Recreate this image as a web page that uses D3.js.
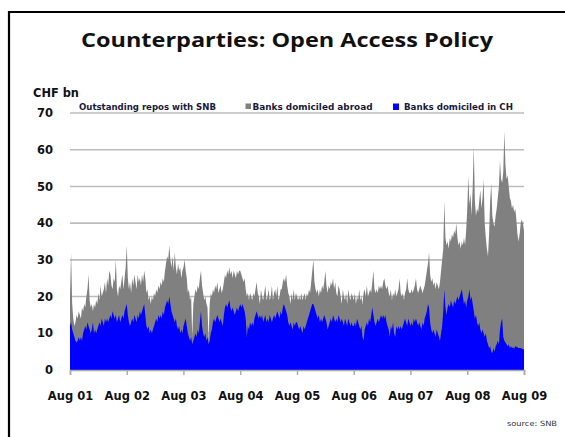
<!DOCTYPE html>
<html>
<head>
<meta charset="utf-8">
<script src="https://cdn.jsdelivr.net/npm/d3@7/dist/d3.min.js"></script>
<style>
  html, body { margin: 0; padding: 0; background: #fff; }
  svg { display: block; }
</style>
</head>
<body>
<div id="chart"></div>
<script>
// Outstanding repos with SNB, CHF bn, weekly readings Aug 2001 – Aug 2009
const seriesNames = ["Banks domiciled abroad", "Banks domiciled in CH"];

// Total outstanding (top of the grey area)
const totalRepos = [
  // Aug 01 – Aug 02
  20,32,18,14,12,13,15,14,16,15,14,17,16,18,17,20,22,26,19,17,18,16,18,17,19,18,
  21,19,23,20,21,22,24,21,25,23,27,26,23,22,25,24,30,22,20,23,22,24,26,22,25,28,
  // Aug 02 – Aug 03
  34,25,22,24,21,25,23,26,24,22,26,24,25,23,26,24,27,25,21,22,19,20,18,20,19,21,
  20,22,21,23,22,24,23,25,24,27,29,31,30,34,30,28,31,27,32,28,26,29,27,28,25,27,
  // Aug 03 – Aug 04
  28,30,27,25,21,22,19,20,9,18,20,22,21,23,22,25,27,23,21,19,20,18,17,8,18,21,
  20,22,21,23,22,24,21,22,23,21,22,24,26,25,27,26,28,26,27,25,27,26,25,27,26,27,
  // Aug 04 – Aug 05
  27,26,25,24,25,22,20,21,19,21,20,19,21,20,22,24,21,20,18,22,20,19,21,23,19,20,
  22,19,20,23,19,21,22,20,23,19,20,22,22,24,25,24,26,23,21,20,18,21,19,22,19,21,
  // Aug 05 – Aug 06
  20,19,20,19,21,19,20,21,19,21,20,22,21,24,27,30,24,22,21,22,20,22,21,23,22,24,
  27,23,21,23,22,24,23,25,22,24,21,20,23,22,20,18,22,20,19,21,18,22,20,19,21,20,
  // Aug 06 – Aug 07
  19,21,18,20,19,22,19,20,18,21,22,20,23,20,21,22,21,24,27,22,21,22,21,23,22,23,
  22,24,25,23,22,23,21,20,22,19,21,20,22,20,21,22,25,21,20,21,19,21,22,25,22,21,
  // Aug 07 – Aug 08
  21,22,21,22,23,25,22,21,22,23,22,21,22,23,25,27,29,32,26,24,25,23,24,22,24,23,
  22,24,27,30,33,46,36,34,35,33,36,35,37,36,38,37,40,36,34,35,33,35,34,36,34,38,
  // Aug 08 – Aug 09
  44,53,45,48,42,50,61,46,42,44,43,46,49,44,47,52,40,36,33,31,37,46,51,42,40,39,
  42,44,47,50,57,52,51,54,65,56,52,53,50,47,46,44,45,43,44,41,37,35,37,40,41,40,
  38
];

// Banks domiciled in Switzerland (blue area)
const chRepos = [
  // Aug 01 – Aug 02
  12,13,11,10,9,8,7.5,8,9,8,9,8,10,11,12,11,13,12,11,10,11,13,10,11,10,11,
  12,13,12,14,13,12,14,13,14,13,14,15,14,16,15,14,15,13,14,15,13,14,15,14,16,17,
  // Aug 02 – Aug 03
  18,15,13,12,13,14,13,15,14,13,15,14,16,15,16,17,18,15,12,11,12,10,11,10,11,12,
  13,14,13,15,14,15,14,16,15,17,18,19,18,20,18,16,15,14,13,14,12,11,12,10,11,10,
  // Aug 03 – Aug 04
  12,13,14,12,10,9,8,9,7,8,9,10,9,11,10,13,16,12,10,9,10,8,9,7,8,10,
  11,13,14,13,14,15,14,13,14,13,12,15,17,18,17,18,19,17,16,17,16,15,16,17,16,17,
  // Aug 04 – Aug 05
  18,17,18,17,16,14,9,12,11,13,12,13,12,14,15,16,15,14,15,14,15,13,14,15,13,14,
  13,15,14,13,14,15,14,15,16,15,14,16,15,17,18,17,16,15,13,12,13,12,11,13,12,13,
  // Aug 05 – Aug 06
  13,12,11,12,11,10,12,11,12,13,14,15,16,17,18,18,17,16,15,14,15,13,14,13,14,15,
  14,13,11,12,13,14,13,15,14,13,14,13,15,14,13,14,13,12,14,13,12,14,13,12,13,12,
  // Aug 06 – Aug 07
  12,13,12,14,13,12,11,12,9,8,11,12,13,12,14,13,15,17,15,13,12,13,14,13,14,15,
  14,15,14,15,13,12,11,9,12,11,13,10,9,12,11,12,11,12,11,12,13,14,13,12,14,13,
  // Aug 07 – Aug 08
  12,13,12,14,13,14,13,12,13,12,11,13,12,14,15,16,18,17,13,11,10,11,10,9,11,10,
  9,8,10,12,16,22,17,15,17,18,17,19,18,17,19,18,19,20,19,20,21,22,20,18,19,17,
  // Aug 08 – Aug 09
  19,20,22,19,20,18,16,14,15,13,12,13,11,10,11,10,9,10,8,7,6,6.5,5,4.6,6,5,
  6.5,7,8,7,11,13,14,9,8,7.5,7,6.5,7,6,6.5,6,6.2,5.8,6.5,6.3,6.2,6,6,6,5.8,5.7,
  5.5
];

const xTickYears = [2001,2002,2003,2004,2005,2006,2007,2008,2009];
const xTickLabels = ["Aug 01","Aug 02","Aug 03","Aug 04","Aug 05","Aug 06","Aug 07","Aug 08","Aug 09"];
const yTicks = [0,10,20,30,40,50,60,70];

const W = 565, H = 437;
const plot = { left: 70, right: 524, top: 113, bottom: 370 };

const startDate = new Date(2001, 7, 1);
const endDate = new Date(2009, 7, 1);
const step = (endDate - startDate) / (totalRepos.length - 1);
const rows = totalRepos.map((v, i) => ({
  date: new Date(+startDate + i * step),
  total: v,
  ch: chRepos[i]
}));

const x = d3.scaleTime().domain([startDate, endDate]).range([plot.left, plot.right]);
const y = d3.scaleLinear().domain([0, 70]).range([plot.bottom, plot.top]);

const svg = d3.select("#chart").append("svg")
  .attr("width", W).attr("height", H)
  .attr("viewBox", `0 0 ${W} ${H}`);

svg.append("rect").attr("width", W).attr("height", H).attr("fill", "#fff");

// page frame
svg.append("path")
  .attr("d", `M9,437 V12 H565`)
  .attr("fill", "none").attr("stroke", "#000").attr("stroke-width", 2.2);

// title
svg.append("text")
  .attr("x", 287).attr("y", 47)
  .attr("text-anchor", "middle")
  .attr("font-family", "'Open Sans', 'DejaVu Sans', sans-serif")
  .attr("font-weight", 700)
  .attr("font-size", 20)
  .attr("textLength", 412).attr("lengthAdjust", "spacingAndGlyphs")
  .attr("fill", "#111")
  .text("Counterparties: Open Access Policy");

// unit label
svg.append("text")
  .attr("x", 33).attr("y", 97)
  .attr("font-family", "'DejaVu Sans', sans-serif")
  .attr("font-weight", 700).attr("font-size", 11.5)
  .attr("textLength", 46).attr("lengthAdjust", "spacingAndGlyphs")
  .attr("fill", "#111")
  .text("CHF bn");

// horizontal grid
svg.append("g").selectAll("line")
  .data(yTicks.filter(d => d > 0))
  .join("line")
  .attr("x1", plot.left).attr("x2", plot.right)
  .attr("y1", d => y(d)).attr("y2", d => y(d))
  .attr("stroke", "#bcbcbc").attr("stroke-width", 1.6);

// y labels
svg.append("g").selectAll("text")
  .data(yTicks)
  .join("text")
  .attr("x", 53).attr("y", d => y(d))
  .attr("dy", "0.36em")
  .attr("text-anchor", "end")
  .attr("font-family", "'DejaVu Sans', sans-serif")
  .attr("font-weight", 700).attr("font-size", 11.5)
  .attr("fill", "#111")
  .text(d => d);

// areas: total first, domestic banks on top
const areaTotal = d3.area()
  .x(d => x(d.date)).y0(y(0)).y1(d => y(d.total));
const areaCH = d3.area()
  .x(d => x(d.date)).y0(y(0)).y1(d => y(d.ch));

svg.append("path").datum(rows)
  .attr("d", areaTotal).attr("fill", "#808080");
svg.append("path").datum(rows)
  .attr("d", areaCH).attr("fill", "#0000ff");

// x axis
const xTickDates = xTickYears.map(yr => new Date(yr, 7, 1));
const xAxis = d3.axisBottom(x)
  .tickValues(xTickDates)
  .tickSize(5)
  .tickPadding(17)
  .tickFormat((d, i) => xTickLabels[i]);

const gx = svg.append("g")
  .attr("transform", `translate(0,${plot.bottom})`)
  .call(xAxis);
gx.select(".domain").attr("stroke", "#a8a8a8").attr("stroke-width", 1.6);
gx.selectAll(".tick line").attr("stroke", "#a8a8a8").attr("stroke-width", 1.4);
gx.selectAll(".tick text")
  .attr("font-family", "'DejaVu Sans', sans-serif")
  .attr("font-weight", 700).attr("font-size", 11.5)
  .attr("fill", "#111");

// caption and legend along the top gridline
const small = { family: "'DejaVu Sans Condensed', 'DejaVu Sans', sans-serif", size: 8.6, color: "#1a1a3a" };

svg.append("text")
  .attr("x", 79).attr("y", 110)
  .attr("font-family", small.family).attr("font-weight", 700).attr("font-size", small.size)
  .attr("textLength", 137).attr("lengthAdjust", "spacingAndGlyphs")
  .attr("fill", small.color)
  .text("Outstanding repos with SNB");

const legend = [
  { name: seriesNames[0], color: "#808080", sx: 245.5, tx: 252.5, w: 120, sw: 5.5, sh: 5.5 },
  { name: seriesNames[1], color: "#0000ff", sx: 393, tx: 404, w: 109, sw: 6, sh: 6.5 }
];
const lg = svg.append("g").selectAll("g").data(legend).join("g");
lg.append("rect")
  .attr("x", d => d.sx).attr("y", 103.5)
  .attr("width", d => d.sw).attr("height", d => d.sh)
  .attr("fill", d => d.color);
lg.append("text")
  .attr("x", d => d.tx).attr("y", 110)
  .attr("font-family", small.family).attr("font-weight", 700).attr("font-size", small.size)
  .attr("textLength", d => d.w).attr("lengthAdjust", "spacingAndGlyphs")
  .attr("fill", small.color)
  .text(d => d.name);

// source note
svg.append("text")
  .attr("x", 557).attr("y", 426)
  .attr("text-anchor", "end")
  .attr("font-family", "'DejaVu Sans', sans-serif")
  .attr("font-size", 7.2)
  .attr("textLength", 50).attr("lengthAdjust", "spacingAndGlyphs")
  .attr("fill", "#333")
  .text("source: SNB");
</script>
</body>
</html>
